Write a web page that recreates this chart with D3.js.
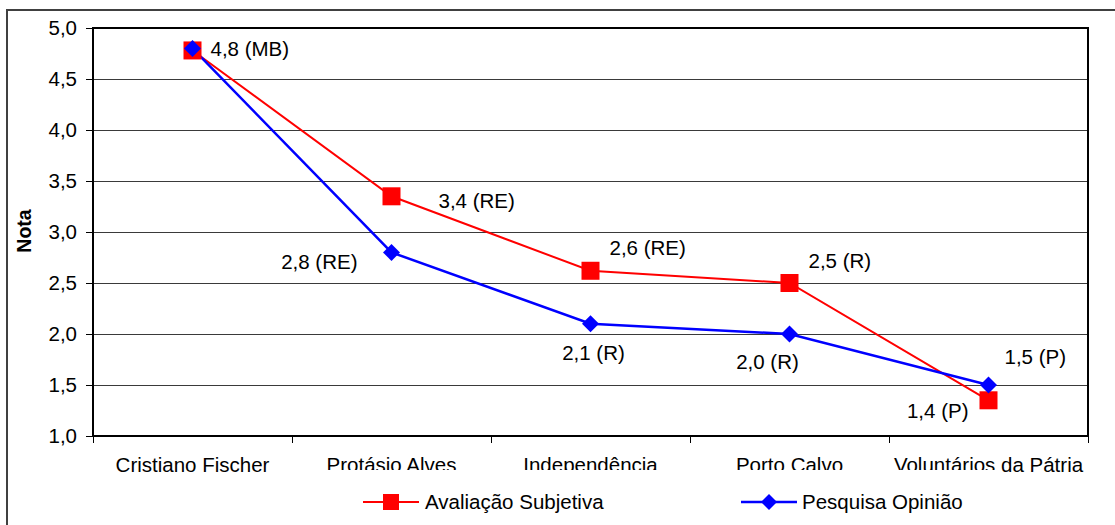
<!DOCTYPE html>
<html>
<head>
<meta charset="utf-8">
<script src="https://cdn.jsdelivr.net/npm/d3@7"></script>
<style>
  html, body { margin: 0; padding: 0; background: #fff; }
  text { font-family: "Liberation Sans", Arial, sans-serif; fill: #000; }
</style>
</head>
<body>
<svg id="chart" width="1115" height="525"></svg>
<script>
// data
var categories = ['Cristiano Fischer', 'Protásio Alves', 'Independência', 'Porto Calvo', 'Voluntários da Pátria'];
var avaliacao = [4.78, 3.35, 2.62, 2.5, 1.35];
var opiniao = [4.8, 2.8, 2.1, 2.0, 1.5];
// first red label sits under the blue "4,8 (MB)" one
var avaliacaoLabels = [null, '3,4 (RE)', '2,6 (RE)', '2,5 (R)', '1,4 (P)'];
var opiniaoLabels = ['4,8 (MB)', '2,8 (RE)', '2,1 (R)', '2,0 (R)', '1,5 (P)'];
var yTicks = [1, 1.5, 2, 2.5, 3, 3.5, 4, 4.5, 5];
var seriesNames = ['Avaliação Subjetiva', 'Pesquisa Opinião'];

//============================================================
// layout
//------------------------------------------------------------
var margin = {top: 28, right: 27, bottom: 89, left: 93},
    width = 1115,
    height = 525,
    fontSize = 20.5;

// label offsets from their point: [dx, dy, anchor]
var redPlace = [null, [47, 5, 'start'], [19, -23, 'start'], [19, -22, 'start'], [-20, 11, 'end']];
var bluePlace = [[18, 0, 'start'], [-34, 9, 'end'], [3, 29, 'middle'], [-22, 28, 'middle'], [16, -28, 'start']];

var svg = d3.select('#chart');
var fmt = function(d) { return d3.format('.1f')(d).replace('.', ','); };

var x = d3.scaleBand().domain(categories).range([margin.left, width - margin.right]);
var y = d3.scaleLinear().domain([1, 5]).range([height - margin.bottom, margin.top]);

// outer chart border
svg.append('rect')
  .attr('x', 7).attr('y', 10)
  .attr('width', 1130).attr('height', 540)
  .attr('fill', '#fff')
  .attr('stroke', '#404040')
  .attr('stroke-width', 2);

//------------------------------------------------------------
// grid

svg.append('g').selectAll('line').data(yTicks.slice(1, -1)).join('line')
  .attr('x1', margin.left).attr('x2', width - margin.right)
  .attr('y1', function(d) { return Math.round(y(d)) + 0.5; })
  .attr('y2', function(d) { return Math.round(y(d)) + 0.5; })
  .attr('stroke', '#3a3a3a')
  .attr('stroke-width', 1);

//------------------------------------------------------------
// axes

var yAxis = svg.append('g')
  .attr('transform', 'translate(' + margin.left + ',0)')
  .call(d3.axisLeft(y).tickValues(yTicks).tickFormat(fmt).tickSizeInner(7).tickSizeOuter(0).tickPadding(9));
yAxis.select('.domain').remove();
yAxis.selectAll('.tick line').attr('stroke', '#000');
yAxis.selectAll('text').attr('font-size', fontSize).attr('font-family', null);

var xAxis = svg.append('g')
  .attr('transform', 'translate(0,' + y(1) + ')');
xAxis.selectAll('line').data(d3.range(categories.length + 1)).join('line')
  .attr('x1', function(i) { return Math.round(margin.left + i * x.step()) + 0.5; })
  .attr('x2', function(i) { return Math.round(margin.left + i * x.step()) + 0.5; })
  .attr('y1', 0).attr('y2', 7)
  .attr('stroke', '#000');
xAxis.selectAll('text').data(categories).join('text')
  .attr('x', function(d) { return x(d) + x.bandwidth() / 2; })
  .attr('y', 36)
  .attr('text-anchor', 'middle')
  .attr('font-size', fontSize)
  .text(function(d) { return d; });

// plot frame
svg.append('rect')
  .attr('x', margin.left).attr('y', margin.top)
  .attr('width', width - margin.left - margin.right)
  .attr('height', height - margin.top - margin.bottom)
  .attr('fill', 'none')
  .attr('stroke', '#000')
  .attr('stroke-width', 2);

svg.append('text')
  .attr('transform', 'translate(31,231) rotate(-90)')
  .attr('text-anchor', 'middle')
  .attr('font-size', 19.5)
  .attr('font-weight', 'bold')
  .text('Nota');

//------------------------------------------------------------
// series

var cx = function(d, i) { return x(categories[i]) + x.bandwidth() / 2; };
var line = d3.line().x(function(d, i) { return cx(d, i); }).y(function(d) { return y(d); });
var diamond = function(s) { return 'M0,' + -s + 'L' + s + ',0L0,' + s + 'L' + -s + ',0Z'; };

svg.append('path').datum(avaliacao)
  .attr('d', line).attr('fill', 'none').attr('stroke', '#ff0000').attr('stroke-width', 2);
svg.append('path').datum(opiniao)
  .attr('d', line).attr('fill', 'none').attr('stroke', '#0000ff').attr('stroke-width', 2.5);

svg.append('g').selectAll('rect').data(avaliacao).join('rect')
  .attr('x', function(d, i) { return cx(d, i) - 9; })
  .attr('y', function(d) { return y(d) - 9; })
  .attr('width', 18).attr('height', 18)
  .attr('fill', '#ff0000');
svg.append('g').selectAll('path').data(opiniao).join('path')
  .attr('transform', function(d, i) { return 'translate(' + cx(d, i) + ',' + y(d) + ')'; })
  .attr('d', diamond(8.5))
  .attr('fill', '#0000ff');

function labels(values, texts, place) {
  svg.append('g').selectAll('text').data(values).join('text')
    .filter(function(d, i) { return texts[i] != null; })
    .attr('x', function(d) { var i = values.indexOf(d); return cx(d, i) + place[i][0]; })
    .attr('y', function(d) { var i = values.indexOf(d); return y(d) + place[i][1]; })
    .attr('dy', '0.35em')
    .attr('text-anchor', function(d) { return place[values.indexOf(d)][2]; })
    .attr('font-size', fontSize)
    .text(function(d) { return texts[values.indexOf(d)]; });
}
labels(avaliacao, avaliacaoLabels, redPlace);
labels(opiniao, opiniaoLabels, bluePlace);

//------------------------------------------------------------
// legend (its white box hides the bottom of the category labels)

var legend = svg.append('g');
legend.append('rect')
  .attr('x', 300).attr('y', 470).attr('width', 695).attr('height', 50)
  .attr('fill', '#fff');

var lg = legend.append('g').attr('transform', 'translate(363,502)');
lg.append('line').attr('x1', 0).attr('x2', 56).attr('stroke', '#ff0000').attr('stroke-width', 2);
lg.append('rect').attr('x', 20).attr('y', -8).attr('width', 16).attr('height', 16).attr('fill', '#ff0000');
lg.append('text').attr('x', 62).attr('dy', '0.35em').attr('font-size', fontSize).text(seriesNames[0]);

var lb = legend.append('g').attr('transform', 'translate(741,502)');
lb.append('line').attr('x1', 0).attr('x2', 56).attr('stroke', '#0000ff').attr('stroke-width', 2.5);
lb.append('path').attr('transform', 'translate(28,0)').attr('d', diamond(8)).attr('fill', '#0000ff');
lb.append('text').attr('x', 61).attr('dy', '0.35em').attr('font-size', fontSize).text(seriesNames[1]);
</script>
</body>
</html>
